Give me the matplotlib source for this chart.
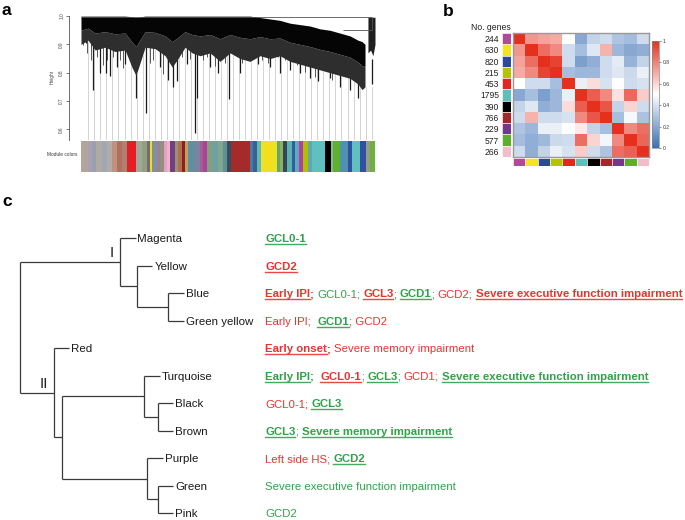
import numpy as np
import matplotlib
matplotlib.use("Agg")
import matplotlib.pyplot as plt
from matplotlib.colors import LinearSegmentedColormap
from matplotlib.lines import Line2D

plt.rcParams['font.family'] = ['Liberation Sans', 'DejaVu Sans']

W, H = 685, 520
RED = '#e8342f'
GREEN = '#2fa24a'

# ---------------- panel a data (gene dendrogram) ----
canopy_x = [0.0, .024, .048, .082, .116, .150, .173, .187, .218, .252, .286,
            .310, .330, .354, .378, .405, .439, .473, .507, .541, .575, .609,
            .643, .677, .711, .745, .779, .813, .847, .881, .915, .942, .956, .966]
canopy_top = [1.0, 1.0, 1.0, 1.0, 1.0, 1.0, 0.998, 0.995, 1.0, 1.0, 1.0,
              1.0, 1.0, 1.0, 1.0, 1.0, 1.0, 1.0, 1.0, 1.0, 1.0, 0.995,
              0.99, 0.985, 0.975, 0.97, 0.965, 0.955, 0.95, 0.94, 0.93, 0.915, 0.91, 0.90]
canopy_bottom = [0.90, 0.915, 0.88, 0.89, 0.875, 0.88, 0.82, 0.79, 0.89, 0.885, 0.86,
                 0.82, 0.85, 0.89, 0.87, 0.86, 0.87, 0.84, 0.87, 0.85, 0.84, 0.86,
                 0.85, 0.86, 0.84, 0.83, 0.82, 0.81, 0.80, 0.79, 0.78, 0.76, 0.74, 0.75]
right_x = [0.976, 0.985, 0.993, 1.0]
right_top = [0.996, 0.996, 0.996, 0.996]
right_bottom = [0.87, 0.88, 0.86, 0.90]

# long branches
spike_x = [0.017, 0.041, 0.065, 0.085, 0.099, 0.122, 0.150, 0.187, 0.221, 0.269,
           0.296, 0.313, 0.327, 0.361, 0.388, 0.395, 0.439, 0.466, 0.503, 0.541,
           0.602, 0.643, 0.677, 0.711, 0.745, 0.779, 0.806, 0.847, 0.881, 0.915,
           0.942, 0.959, 0.990]
spike_h = [0.905, 0.74, 0.80, 0.80, 0.79, 0.82, 0.83, 0.71, 0.657, 0.82,
           0.774, 0.75, 0.77, 0.83, 0.587, 0.71, 0.82, 0.80, 0.707, 0.80,
           0.83, 0.82, 0.80, 0.81, 0.80, 0.78, 0.77, 0.78, 0.75, 0.74,
           0.71, 0.745, 0.85]
# shorter branches
twig_x = [.008, .019, .034, .053, .076, .087, .110, .133, .144, .167, .206, .235,
          .246, .280, .326, .343, .360, .371, .416, .428, .456, .490, .524, .547,
          .569, .592, .615, .637, .671, .694, .734, .762, .796, .819, .853, .875,
          .915, .938, .955]
twig_h = [0.898, 0.868, 0.845, 0.856, 0.827, 0.845, 0.856, 0.845, 0.815, 0.845,
          0.868, 0.833, 0.845, 0.797, 0.833, 0.856, 0.845, 0.85, 0.845, 0.856,
          0.822, 0.833, 0.868, 0.833, 0.86, 0.868, 0.845, 0.833, 0.856, 0.845,
          0.827, 0.804, 0.786, 0.81, 0.775, 0.798, 0.769, 0.775, 0.786]

merge_h = [0.998, 0.952]
merge_x0 = [0.0, 0.89]
merge_x1 = [0.99, 0.99]

module_edges = [0.000, .024, .037, .051, .071, .088, .105, .122, .139, .156, .187,
                .207, .224, .235, .241, .259, .269, .282, .293, .303, .320, .330,
                .344, .354, .364, .388, .405, .415, .429, .446, .466, .483, .497,
                .510, .575, .585, .599, .612, .667, .677, .687, .701, .718, .728,
                .741, .755, .772, .786, .830, .850, .857, .881, .908, .922, .949,
                .969, .983, 1.0]
module_strip = ['#b4a59a', '#a8a0b4', '#9aa0b0', '#b0aaa0', '#a0a8b8', '#b4aca4',
                '#c09080', '#b07060', '#b08070', '#e31e24', '#a0a898', '#90a080',
                '#7a6a70', '#e8e020', '#8090a0', '#a08090', '#909080', '#e8a0c0',
                '#f0b0d0', '#704080', '#a09070', '#b07050', '#902020', '#c0a060',
                '#6090a0', '#8080a0', '#a06090', '#b040a0', '#80a080', '#70a0a0',
                '#80a890', '#609090', '#305060', '#a52a2a', '#4878a8', '#3a6090',
                '#60b8b8', '#f0e020', '#60a870', '#90b060', '#304858', '#60b0b0',
                '#3060a0', '#60a8c0', '#b040a0', '#b0c000', '#60a8b0', '#60c0c0',
                '#000000', '#80c080', '#60b030', '#5090b0', '#3050a0', '#60c0c0',
                '#3050a0', '#90a080', '#70b040']

# ---------------- panel b data (module eigengene adjacency) ---------------
modules = ['magenta', 'yellow', 'blue', 'greenyellow', 'red', 'turquoise',
           'black', 'brown', 'purple', 'green', 'pink']
module_colors = ['#b04a9a', '#f2e51e', '#2b4a9a', '#b5c400', '#e3261f', '#5fbfbd',
                 '#000000', '#a3282a', '#6f3a8a', '#5fad2c', '#f2bccb']
n_genes = [244, 630, 820, 215, 453, 1795, 390, 766, 229, 577, 266]
adjacency = np.array([
    [1.00, 0.75, 0.72, 0.70, 0.50, 0.20, 0.35, 0.38, 0.30, 0.27, 0.38],
    [0.75, 1.00, 0.85, 0.78, 0.38, 0.28, 0.42, 0.68, 0.25, 0.20, 0.22],
    [0.72, 0.85, 1.00, 0.95, 0.38, 0.17, 0.22, 0.38, 0.43, 0.24, 0.35],
    [0.70, 0.78, 0.95, 1.00, 0.28, 0.25, 0.25, 0.38, 0.42, 0.37, 0.45],
    [0.50, 0.38, 0.38, 0.28, 1.00, 0.45, 0.58, 0.40, 0.50, 0.38, 0.40],
    [0.20, 0.28, 0.17, 0.25, 0.45, 1.00, 0.89, 0.78, 0.57, 0.86, 0.62],
    [0.35, 0.42, 0.22, 0.25, 0.58, 0.89, 1.00, 0.91, 0.35, 0.60, 0.38],
    [0.38, 0.68, 0.38, 0.38, 0.40, 0.78, 0.91, 1.00, 0.28, 0.48, 0.29],
    [0.30, 0.25, 0.45, 0.45, 0.50, 0.55, 0.35, 0.28, 1.00, 0.78, 0.85],
    [0.27, 0.22, 0.26, 0.37, 0.38, 0.85, 0.60, 0.47, 0.78, 1.00, 0.87],
    [0.38, 0.22, 0.35, 0.45, 0.40, 0.62, 0.38, 0.30, 0.85, 0.88, 1.00]])

# ---------------- panel c data (module tree + clinical traits) ------------
# node = (merge height, left, right); height 1 = root
tree = (1.0,
        (0.394, 'Magenta', (0.291, 'Yellow', (0.103, 'Blue', 'Green yellow'))),
        (0.794, 'Red',
         (0.745,
          (0.248, 'Turquoise', (0.164, 'Black', 'Brown')),
          (0.230, 'Purple', (0.164, 'Green', 'Pink')))))
hang = 0.094

# style: 'u' bold underlined, 'b' bold, 'n' plain
traits = {
    'Magenta': [('GCL0-1', GREEN, 'u')],
    'Yellow': [('GCD2', RED, 'u')],
    'Blue': [('Early IPI', RED, 'u'), (';', RED, 'b'), (' GCL0-1; ', GREEN, 'n'),
             ('GCL3', RED, 'u'), ('; ', RED, 'n'), ('GCD1', GREEN, 'u'),
             ('; ', GREEN, 'n'), ('GCD2; ', RED, 'n'),
             ('Severe executive function impairment', RED, 'u')],
    'Green yellow': [('Early IPI;  ', RED, 'n'), ('GCD1', GREEN, 'u'),
                     ('; GCD2', RED, 'n')],
    'Red': [('Early onset', RED, 'u'), (';', RED, 'b'),
            (' Severe memory impairment', RED, 'n')],
    'Turquoise': [('Early IPI', GREEN, 'u'), (';', GREEN, 'b'), (' ', GREEN, 'n'),
                  ('GCL0-1', RED, 'u'), ('; ', GREEN, 'n'), ('GCL3', GREEN, 'u'),
                  ('; ', GREEN, 'n'), ('GCD1; ', RED, 'n'),
                  ('Severe executive function impairment', GREEN, 'u')],
    'Black': [('GCL0-1; ', RED, 'n'), ('GCL3', GREEN, 'u')],
    'Brown': [('GCL3', GREEN, 'u'), ('; ', GREEN, 'n'),
              ('Severe memory impairment', GREEN, 'u')],
    'Purple': [('Left side HS; ', RED, 'n'), ('GCD2', GREEN, 'u')],
    'Green': [('Severe executive function impairment', GREEN, 'n')],
    'Pink': [('GCD2', GREEN, 'n')],
}

fig = plt.figure(figsize=(W / 100, H / 100), dpi=100)


def px_axes(x0, y0, x1, y1):
    return fig.add_axes([x0 / W, 1 - y1 / H, (x1 - x0) / W, (y1 - y0) / H])


# ================= panel a =================
ax_a = px_axes(81, 15, 375, 140)
ylo = 0.562
ax_a.set_xlim(0, 1)
ax_a.set_ylim(ylo, 1.004)

leaf_x = np.arange(0.025, 0.99, 0.0205)
ax_a.vlines(leaf_x, ylo, np.interp(leaf_x, canopy_x, canopy_bottom),
            color='#cccccc', lw=0.6, zorder=1)
ax_a.vlines(twig_x, twig_h, np.interp(twig_x, canopy_x, canopy_bottom) + 0.01,
            color='#3a3a3a', lw=0.6, zorder=2)
ax_a.vlines(spike_x, spike_h, np.interp(spike_x, canopy_x, canopy_bottom) + 0.01,
            color='#1a1a1a', lw=0.9, zorder=2)

ctop = np.array(canopy_top)
cbot = np.array(canopy_bottom)
cmid = ctop - 0.5 * (ctop - cbot)
ax_a.fill_between(canopy_x, cbot, cmid, color='#2e2e2e', lw=0, zorder=3)
ax_a.fill_between(canopy_x, cmid, ctop, color='#050505', lw=0, zorder=3)

rtop = np.array(right_top)
rbot = np.array(right_bottom)
ax_a.fill_between(right_x, rbot, rtop, color='#202020', lw=0, zorder=3)

ax_a.hlines(merge_h, merge_x0, merge_x1, color='#555555', lw=0.6, zorder=4)
ax_a.vlines(merge_x1[0], merge_h[1], merge_h[0], color='#555555', lw=0.6, zorder=4)

for s in ['top', 'right', 'bottom']:
    ax_a.spines[s].set_visible(False)
ax_a.spines['left'].set_position(('outward', 8.6))
ax_a.spines['left'].set_bounds(ylo, 1.0)
ax_a.spines['left'].set_linewidth(0.6)
ax_a.spines['left'].set_color('#555555')
ax_a.set_xticks([])
ax_a.set_yticks([0.6, 0.7, 0.8, 0.9, 1.0])
ax_a.set_yticklabels(['0.6', '0.7', '0.8', '0.9', '1.0'])
ax_a.tick_params(axis='y', labelsize=3.4, length=2, width=0.5, pad=1.5,
                 colors='#444444')
plt.setp(ax_a.get_yticklabels(), rotation=90, va='center')
ax_a.set_ylabel('Height', fontsize=3.4, labelpad=3, color='#444444')

ax_mc = px_axes(81, 141, 375, 172)
ax_mc.set_xlim(0, 1)
ax_mc.set_ylim(0, 1)
ax_mc.bar(module_edges[:-1], 1, width=np.diff(module_edges), align='edge',
          color=module_strip, lw=0)
ax_mc.axis('off')
fig.text(77 / W, 1 - 155 / H, 'Module colors', fontsize=3.4, ha='right',
         va='center', color='#333333')

# ================= panel b =================
cmap = LinearSegmentedColormap.from_list('bwr_me', ['#3a6fb6', '#ffffff', '#e5301e'])
ax_b = px_axes(513, 33, 649, 157)
im = ax_b.imshow(adjacency, cmap=cmap, vmin=0, vmax=1, aspect='auto',
                 interpolation='nearest')
ax_b.set_xticks([])
ax_b.set_yticks([])
for s in ax_b.spines.values():
    s.set_color('#999999')
    s.set_linewidth(1.0)

ax_rc = px_axes(502, 33, 511, 157)
ax_rc.barh(np.arange(len(modules)), 1, height=1.0, color=module_colors,
           edgecolor='white', lw=0.4)
ax_rc.set_ylim(len(modules) - 0.5, -0.5)
ax_rc.set_xlim(0, 1)
ax_rc.set_xticks([])
ax_rc.set_yticks(np.arange(len(modules)))
ax_rc.set_yticklabels([str(n) for n in n_genes])
ax_rc.tick_params(axis='y', length=0, pad=2, labelsize=6.2, colors='#222222')
for s in ax_rc.spines.values():
    s.set_visible(False)
fig.text(511 / W, 1 - 28 / H, 'No. genes', fontsize=6.2, ha='right', va='center',
         color='#222222')

ax_cc = px_axes(513, 158, 649, 166)
ax_cc.bar(np.arange(len(modules)), 1, width=1.0, color=module_colors,
          edgecolor='white', lw=0.4)
ax_cc.set_xlim(-0.5, len(modules) - 0.5)
ax_cc.set_ylim(0, 1)
ax_cc.axis('off')

cax = px_axes(652, 41, 659, 148)
cb = fig.colorbar(im, cax=cax, ticks=[0, 0.2, 0.4, 0.6, 0.8, 1.0])
cb.ax.set_yticklabels(['0', '0.2', '0.4', '0.6', '0.8', '1'])
cb.ax.tick_params(labelsize=3.6, length=1.5, width=0.4, pad=1, colors='#333333')
cb.outline.set_edgecolor('#888888')
cb.outline.set_linewidth(0.5)

# ================= panel c =================
ax_c = px_axes(20, 238, 185, 513)
ax_c.set_xlim(1.0, 0.0)
ax_c.set_ylim(10, 0)
ax_c.axis('off')
LC = '#3a3a3a'
leaves = []
nodes = {}


def draw(node):
    """Return (y, x) of the node, drawing its branches."""
    if isinstance(node, str):
        leaves.append(node)
        return len(leaves) - 1, None
    h, left, right = node
    pts = []
    for child in (left, right):
        cy, cx = draw(child)
        if cx is None:
            cx = h - hang
            nodes[child] = (cy, cx)
        ax_c.plot([h, cx], [cy, cy], color=LC, lw=0.9, clip_on=False,
                  solid_capstyle='butt')
        pts.append(cy)
    ax_c.plot([h, h], pts, color=LC, lw=0.9, clip_on=False, solid_capstyle='butt')
    y = np.mean(pts)
    nodes[id(node)] = (y, h)
    return y, h


draw(tree)

FS = 8.2
fs_px = FS * 100 / 72
renderer = fig.canvas.get_renderer()


def text_w(s, weight):
    t = fig.text(0, 0, s, fontsize=FS, fontweight=weight)
    w = t.get_window_extent(renderer).width
    t.remove()
    return w


space_w = {wt: text_w('a a', wt) - text_w('aa', wt) for wt in ('normal', 'bold')}


def baseline_of(i):
    return ax_c.transData.transform((0, i))[1] - 0.716 * fs_px / 2


def put_row(x, yb, segs):
    for txt, color, style in segs:
        weight = 'bold' if style in 'ub' else 'normal'
        core = txt.strip(' ')
        lead = len(txt) - len(txt.lstrip(' '))
        trail = len(txt) - len(txt.rstrip(' '))
        x += lead * space_w[weight]
        if core:
            t = fig.text(x / W, yb / H, core, fontsize=FS, fontweight=weight,
                         color=color, ha='left', va='baseline')
            bb = t.get_window_extent(renderer)
            if style == 'u':
                fig.add_artist(Line2D([bb.x0 / W, bb.x1 / W], [(yb - 2.2) / H] * 2,
                                      color=color, lw=1.0, alpha=0.9,
                                      transform=fig.transFigure))
            x = bb.x1
        x += trail * space_w[weight]


for name in leaves:
    i, hx = nodes[name]
    xd = ax_c.transData.transform((hx, i))[0] + 2
    yb = baseline_of(i)
    fig.text(xd / W, yb / H, name, fontsize=8.25, color='#1a1a1a', ha='left',
             va='baseline')
    put_row(265, yb, traits[name])

# cluster numerals
yI, hI = nodes[id(tree[1])]
yII, hII = nodes[id(tree[2])]
ax_c.annotate('I', (hI, yI), xytext=(-4.5, 1.2), textcoords='offset points',
              ha='right', va='bottom', fontsize=11, color='#222222')
ax_c.annotate('II', (hII, yII), xytext=(-4.5, 1.2), textcoords='offset points',
              ha='right', va='bottom', fontsize=11, color='#222222')

# panel letters
for lab, x, y in [('a', 2, 15), ('b', 443, 16), ('c', 2, 206)]:
    fig.text(x / W, 1 - y / H, lab, fontsize=12.5, fontweight='bold', ha='left',
             va='baseline')

fig.savefig('out.png', dpi=100)
